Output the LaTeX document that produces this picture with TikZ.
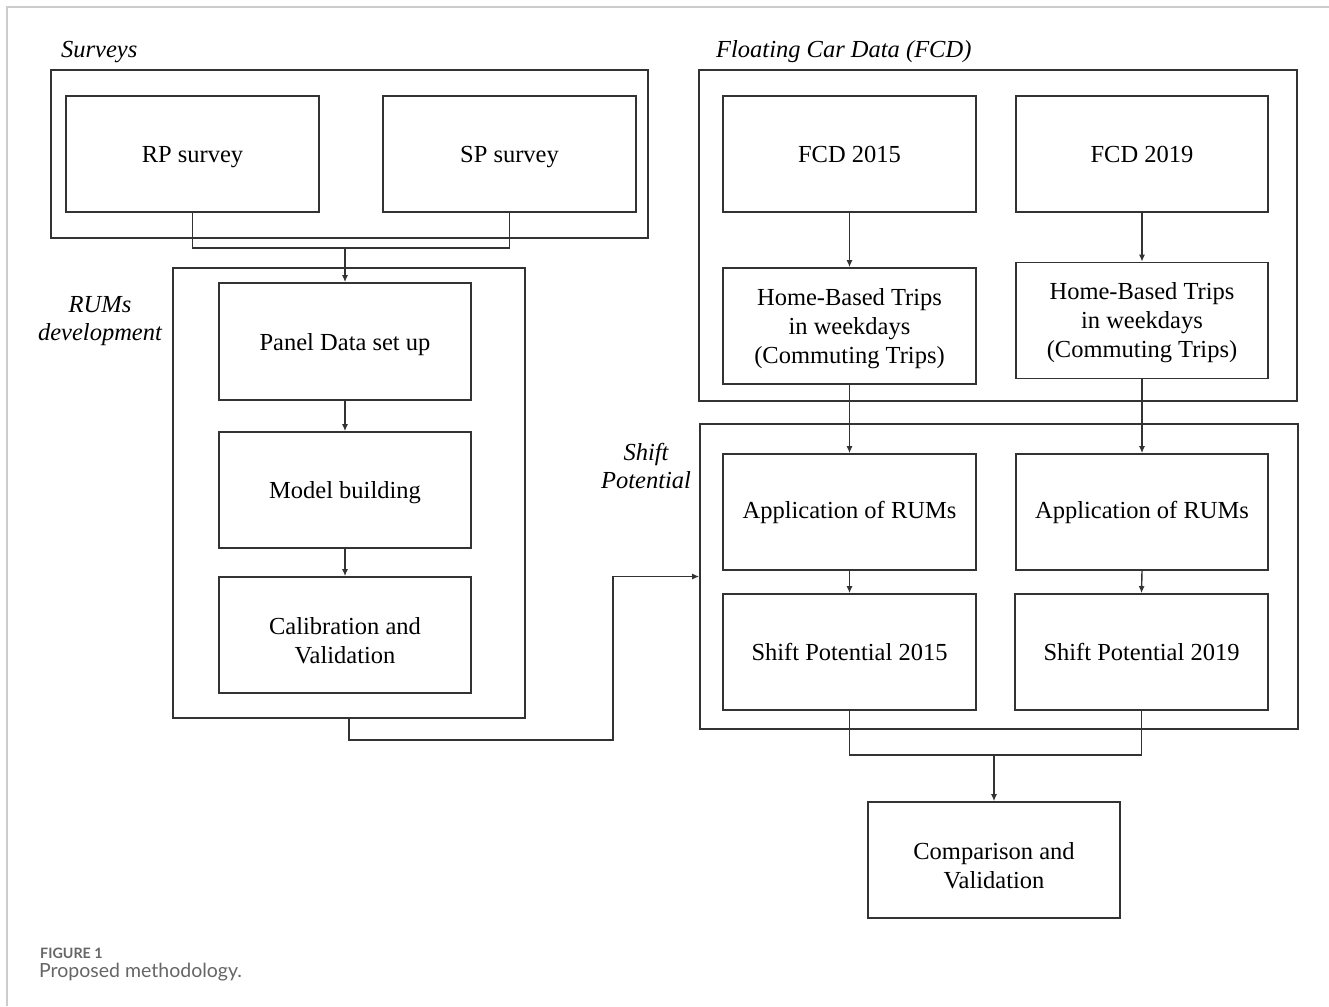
\documentclass[tikz,border=0pt]{standalone}
\usepackage{fontspec}
\setmainfont{Liberation Serif}
\newfontfamily\capfont{Lato}
\usetikzlibrary{arrows.meta}
\definecolor{ln}{HTML}{333333}
\definecolor{frm}{HTML}{CCCCCC}
\definecolor{capc}{HTML}{666666}
\newcommand\myraise[1]{\rule{0pt}{#1}}
\tikzset{
  stepbox/.style={draw=ln, line width=1.6pt, minimum width=253pt, minimum height=116pt, align=center, inner sep=0pt, font=\fontsize{24.5}{29}\selectfont},
  groupbox/.style={draw=ln, line width=1.6pt, inner sep=0pt},
  conn/.style={draw=ln, line width=1.4pt},
  arr/.style={conn, -{Latex[length=7pt,width=6pt]}},
  grouplabel/.style={font=\fontsize{24.5}{28.5}\selectfont\itshape, align=center, inner sep=0pt}
}
\begin{document}
\begin{tikzpicture}[x=1pt, y=-1pt]
\useasboundingbox (0,0) rectangle (1329,1006);
% page frame
\draw[frm, line width=1.2pt] (7,1006) -- (7,7) -- (1329,7);

% group boxes
\node[groupbox, minimum width=597pt, minimum height=168pt] (surveys) at (349.5,154) {};
\node[groupbox, minimum width=352pt, minimum height=450pt] (rums) at (349,493) {};
\node[groupbox, minimum width=598pt, minimum height=331pt] (fcd) at (998,235.5) {};
\node[groupbox, minimum width=598pt, minimum height=305pt] (shift) at (999,576.5) {};

% group labels
\node[grouplabel, anchor=west] (lsurv) at (61,52) {Surveys};
\node[grouplabel, anchor=west] (lfcd) at (716,52) {Floating Car Data (FCD)};
\node[grouplabel] (lrums) at (100,321) {RUMs\\development};
\node[grouplabel] (lshift) at (646,466) {Shift\\Potential};

% steps
\node[stepbox] (rp) at (192.5,154) {\myraise{23pt}RP survey};
\node[stepbox] (sp) at (509.5,154) {\myraise{23pt}SP survey};
\node[stepbox, minimum width=252pt, minimum height=117pt] (panel) at (345,341.5) {\myraise{23pt}Panel Data set up};
\node[stepbox, minimum width=252pt] (model) at (345,490) {\myraise{23pt}Model building};
\node[stepbox, minimum width=252pt] (calib) at (345,635) {\myraise{28.5pt}Calibration and\\Validation};

\node[stepbox] (f15) at (849.5,154) {FCD 2015};
\node[stepbox, minimum width=252pt] (f19) at (1142,154) {FCD 2019};
\node[stepbox] (h15) at (849.5,326) {\myraise{22.5pt}Home-Based Trips\\in weekdays\\(Commuting Trips)};
\node[stepbox, minimum width=252pt] (h19) at (1142,320.5) {\myraise{21pt}Home-Based Trips\\in weekdays\\(Commuting Trips)};
\node[stepbox] (a15) at (849.5,512) {\myraise{19pt}Application of RUMs};
\node[stepbox, minimum width=252pt] (a19) at (1142,512) {\myraise{19pt}Application of RUMs};
\node[stepbox] (s15) at (849.5,652) {Shift Potential 2015};
\node[stepbox] (s19) at (1141.5,652) {Shift Potential 2019};
\node[stepbox, minimum width=252pt] (comp) at (994,860) {\myraise{28.5pt}Comparison and\\Validation};

% connectors
\coordinate (j1) at (345,248);
\draw[conn] (rp.south) |- (j1) -| (sp.south);
\draw[arr] (j1) -- (panel.north);
\draw[arr] (panel.south) -- (model.north);
\draw[arr] (model.south) -- (calib.north);

\coordinate (c1) at (613,740);
\draw[arr] (rums.south) |- (c1) |- (shift.west);

\draw[arr] (f15.south) -- (h15.north);
\draw[arr] (f19.south) -- (h19.north);
\draw[arr] (h15.south) -- (a15.north);
\draw[arr] (h19.south) -- (a19.north);
\draw[arr] (a15.south) -- (s15.north);
\draw[arr] (a19.south) -- (s19.north);

\coordinate (j2) at (994,755);
\draw[conn] (s15.south) |- (j2) -| (s19.south);
\draw[arr, line width=2pt] (j2) -- (comp.north);

% caption
\node[anchor=west, inner sep=0pt, text=capc, font=\capfont\fontsize{14.3}{16}\selectfont\bfseries] (fig) at (40,953) {FIGURE 1};
\node[anchor=west, inner sep=0pt, text=capc, font=\capfont\fontsize{19.5}{22}\selectfont] (capt) at (39,972) {Proposed methodology.};
\end{tikzpicture}
\end{document}
